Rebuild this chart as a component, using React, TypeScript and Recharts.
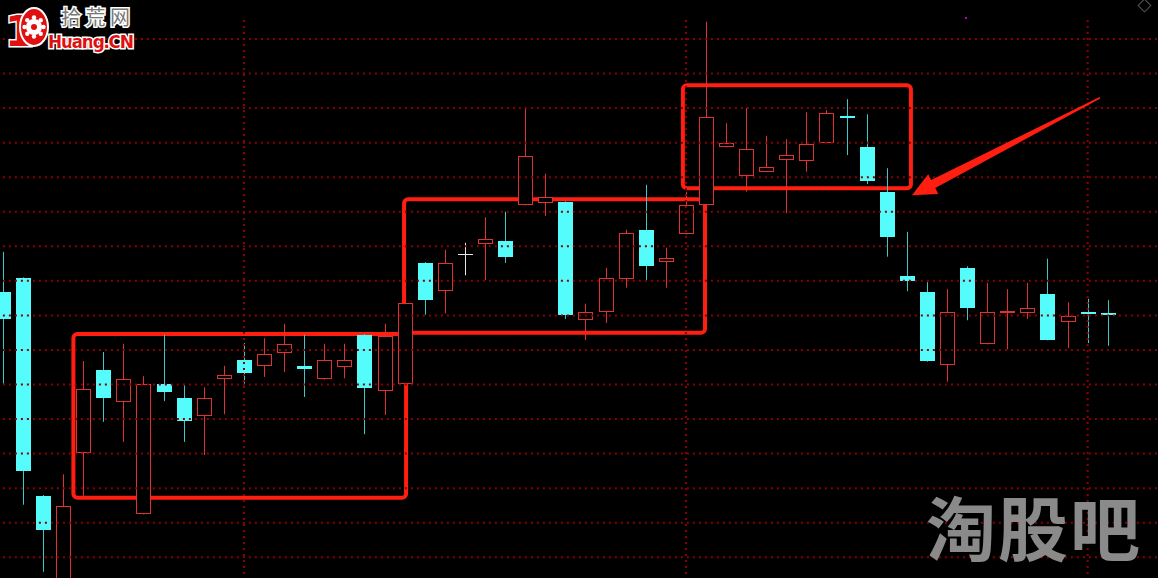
import { ComposedChart, Bar, XAxis, YAxis, ReferenceLine, ReferenceArea } from "recharts";

// daily candles (price units: one grid step = 0.5)
const OPEN = [
  13.84, 14.04, 10.89, 9.4, 11.51, 12.71, 12.25, 10.63, 12.51, 12.3, 12.04, 12.58, 12.85, 12.77,
  12.96, 12.77, 12.58, 12.75, 13.22, 12.41, 12.51, 14.26, 13.85, 14.39, 14.53, 14.58, 15.1, 15.13,
  15.14, 13.43, 13.55, 14.03, 14.74, 14.27, 14.68, 15.1, 15.94, 15.52, 15.58, 15.75, 15.73, 16.0,
  16.38, 15.94, 15.29, 14.07, 13.84, 12.78, 14.19, 13.09, 13.53, 13.53, 13.81, 13.4, 13.55, 13.53,
];
const HIGH = [
  14.42, 14.05, 10.9, 11.2, 12.84, 12.97, 13.09, 12.62, 13.22, 12.49, 12.46, 12.77, 13.1, 13.17,
  13.38, 13.22, 13.09, 13.09, 13.23, 13.38, 13.69, 14.27, 14.45, 14.55, 14.92, 15.0, 16.5, 15.55,
  15.15, 13.67, 14.19, 14.74, 15.39, 14.48, 15.29, 17.75, 16.28, 16.5, 16.1, 16.05, 16.44, 16.47,
  16.63, 16.41, 15.63, 14.71, 13.98, 13.88, 14.21, 13.97, 13.88, 13.97, 14.32, 13.69, 13.74, 13.72,
];
const LOW = [
  12.51, 10.76, 9.79, 9.35, 10.89, 11.96, 11.67, 10.62, 12.26, 11.67, 11.48, 12.07, 12.51, 12.61,
  12.68, 12.32, 12.57, 12.59, 11.78, 12.06, 12.5, 13.51, 13.53, 14.08, 14.01, 14.26, 15.09, 14.94,
  13.45, 13.14, 13.39, 13.9, 14.01, 13.9, 14.67, 15.09, 15.93, 15.29, 15.57, 14.98, 15.58, 15.99,
  15.82, 15.4, 14.35, 13.85, 12.83, 12.54, 13.43, 13.08, 13.01, 13.45, 13.14, 13.03, 13.1, 13.06,
];
const CLOSE = [
  13.45, 11.25, 10.39, 10.74, 12.43, 12.3, 12.58, 12.51, 12.39, 11.97, 12.3, 12.64, 12.67, 12.94,
  13.09, 12.72, 12.85, 12.85, 12.45, 13.2, 13.68, 13.72, 14.26, 14.39, 14.61, 14.35, 15.81, 15.21,
  13.51, 13.55, 14.04, 14.69, 14.21, 14.33, 15.1, 16.37, 16.0, 15.91, 15.65, 15.82, 15.98, 16.43,
  16.36, 15.45, 14.63, 14.0, 12.84, 13.55, 13.61, 13.55, 13.56, 13.61, 13.14, 13.49, 13.52, 13.51,
];

const GRID_LEVELS = [10, 10.5, 11, 11.5, 12, 12.5, 13, 13.5, 14, 14.5, 15, 15.5, 16, 16.5, 17, 17.5];
const MONTH_STARTS = [12, 34, 54];

const BOXES = [
  { x1: 3.51, x2: 20.07, y1: 13.23, y2: 10.86 },
  { x1: 19.97, x2: 34.95, y1: 15.18, y2: 13.25 },
  { x1: 33.85, x2: 45.2, y1: 16.83, y2: 15.34 },
];
const ARROW = [
  { x: 54.61, y: 16.65 },
  { x: 45.25, y: 15.24 },
];

const X_DOMAIN = [-0.144, 57.5];
const Y_DOMAIN = [9.7, 18.064];

const UP = "#e03232";
const DOWN = "#54fcfc";
const DOWN_WICK = "#3cc8c8";
const FLAT = "#e6e6e6";
const GRID = "#8c0000";
const BOX = "#ff1e10";

const candles = OPEN.map((o, i) => ({
  i,
  open: o,
  high: HIGH[i],
  low: LOW[i],
  close: CLOSE[i],
  range: [LOW[i], HIGH[i]],
}));

function Candle(props: any) {
  const { x, y, width, height, payload } = props;
  const { open, high, low, close } = payload;
  const top = Math.min(y, y + height);
  const span = Math.abs(height);
  const py = (v: number) => top + ((high - v) / (high - low)) * span;
  const cx = Math.round(x + width / 2 - 0.5) + 0.5;
  const left = Math.round(x);
  const w = Math.round(width);
  const yHigh = py(high);
  const yLow = py(low);
  const bTop = Math.round(py(Math.max(open, close)));
  const bBot = Math.round(py(Math.min(open, close)));
  const bh = Math.max(1, bBot - bTop);

  if (close > open) {
    return (
      <g>
        <line x1={cx} x2={cx} y1={yHigh} y2={bTop} stroke={UP} />
        <line x1={cx} x2={cx} y1={bTop + bh} y2={yLow} stroke={UP} />
        <rect x={left + 0.5} y={bTop + 0.5} width={w - 1} height={Math.max(1, bh - 1)} fill="#000" stroke={UP} />
      </g>
    );
  }
  if (close < open) {
    return (
      <g>
        <line x1={cx} x2={cx} y1={yHigh} y2={yLow} stroke={DOWN_WICK} />
        <rect x={left} y={bTop} width={w} height={Math.max(2, bh)} fill={DOWN} />
      </g>
    );
  }
  return (
    <g>
      <line x1={cx} x2={cx} y1={yHigh} y2={yLow} stroke={FLAT} />
      <line x1={left} x2={left + w} y1={bTop + 0.5} y2={bTop + 0.5} stroke={FLAT} />
    </g>
  );
}

const BoxShape = (p: any) => (
  <rect x={p.x} y={p.y} width={p.width} height={p.height} rx={4} fill="none" stroke={BOX} strokeWidth={4} />
);

function ArrowShape(p: any) {
  const { x1, y1, x2, y2 } = p;
  const dx = x2 - x1;
  const dy = y2 - y1;
  const len = Math.hypot(dx, dy) || 1;
  const ux = dx / len;
  const uy = dy / len;
  const nx = -uy;
  const ny = ux;
  const bx = x2 - ux * 24;
  const by = y2 - uy * 24;
  const pt = (px: number, py: number) => `${px},${py}`;
  const pts = [
    pt(x1 + nx * 0.8, y1 + ny * 0.8),
    pt(bx + nx * 4.5, by + ny * 4.5),
    pt(bx + nx * 11, by + ny * 11),
    pt(x2, y2),
    pt(bx - nx * 11, by - ny * 11),
    pt(bx - nx * 4.5, by - ny * 4.5),
    pt(x1 - nx * 0.8, y1 - ny * 0.8),
  ].join(" ");
  return <polygon points={pts} fill={BOX} />;
}

function Logo() {
  const teeth = [0, 45, 90, 135, 180, 225, 270, 315];
  return (
    <g>
      <text x={5} y={46} fontFamily="DejaVu Sans" fontWeight="bold" fontSize={42} textLength={17} fill="#e01010" stroke="#fff" strokeWidth={3} paintOrder="stroke">
        1
      </text>
      <ellipse cx={34} cy={27} rx={14} ry={19} fill="#e01010" stroke="#fff" strokeWidth={2} />
      <circle cx={34} cy={27} r={8} fill="#fff" />
      {teeth.map((a) => (
        <circle key={a} cx={34 + Math.cos((a * Math.PI) / 180) * 9.5} cy={27 + Math.sin((a * Math.PI) / 180) * 9.5} r={2.2} fill="#fff" />
      ))}
      <circle cx={34} cy={27} r={3} fill="#e01010" />
      <text x={61} y={25} fontFamily="Noto Sans CJK SC" fontSize={20} textLength={69} fill="#777" stroke="#fff" strokeWidth={3} paintOrder="stroke">
        拾荒网
      </text>
      <text x={48} y={48} fontFamily="DejaVu Sans" fontWeight="bold" fontSize={17} textLength={86} fill="#e01010" stroke="#fff" strokeWidth={3} paintOrder="stroke">
        Huang.CN
      </text>
    </g>
  );
}

export default function App() {
  return (
    <div style={{ position: "absolute", left: 0, top: 0, width: 1158, height: 578, background: "#000", overflow: "hidden" }}>
      <ComposedChart width={1158} height={578} data={candles} margin={{ top: 0, right: 0, bottom: 0, left: 0 }}>
        <XAxis dataKey="i" type="number" domain={X_DOMAIN} allowDataOverflow hide />
        <YAxis type="number" domain={Y_DOMAIN} allowDataOverflow hide />
        {GRID_LEVELS.map((v) => (
          <ReferenceLine
            key={`h${v}`}
            segment={[{ x: 0, y: v }, { x: X_DOMAIN[1], y: v }]}
            stroke={GRID}
            strokeWidth={2}
            strokeDasharray="2 4"
            ifOverflow="visible"
          />
        ))}
        {MONTH_STARTS.map((i) => (
          <ReferenceLine
            key={`v${i}`}
            segment={[{ x: i, y: 17.775 }, { x: i, y: Y_DOMAIN[0] }]}
            stroke={GRID}
            strokeWidth={2}
            strokeDasharray="2 4"
            ifOverflow="visible"
          />
        ))}
        <Bar dataKey="range" barSize={15} shape={Candle} isAnimationActive={false} />
        {BOXES.map((b, k) => (
          <ReferenceArea key={k} x1={b.x1} x2={b.x2} y1={b.y1} y2={b.y2} shape={BoxShape} ifOverflow="visible" />
        ))}
        <ReferenceLine segment={ARROW} shape={ArrowShape} ifOverflow="visible" />
      </ComposedChart>
      <svg width={1158} height={578} style={{ position: "absolute", left: 0, top: 0, pointerEvents: "none" }}>
        <Logo />
        <rect x={1140} y={1} width={9} height={9} fill="none" stroke="#555" transform="rotate(45 1144.5 5.5)" />
        <rect x={965} y={17} width={2} height={2} fill="#c000c0" />
        <text x={926} y={556} fontFamily="Noto Sans CJK SC" fontWeight="bold" fontSize={70} textLength={214} fill="#8a8a8a">
          淘股吧
        </text>
      </svg>
    </div>
  );
}
